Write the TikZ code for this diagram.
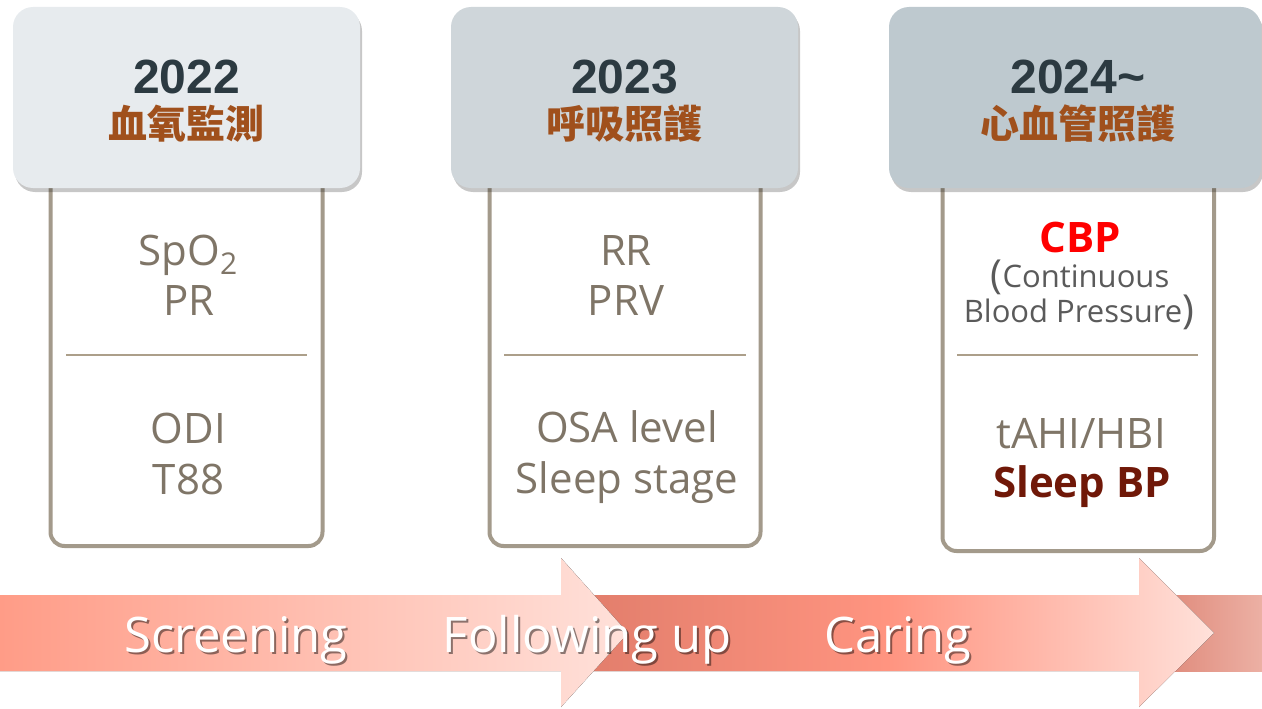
\documentclass[tikz,border=0pt]{standalone}
\usepackage{fontspec}
\usepackage{tikz}
\usetikzlibrary{
    positioning,   % For placing nodes relative to each other
    shadows        % For the soft shadow under the year boxes
}
\newfontfamily\bodyfont{Open Sans}
\newfontfamily\yearfont{Liberation Sans}
\newfontfamily\cjkfont{Noto Sans CJK TC}
\definecolor{hdrone}{HTML}{E7EBEE}
\definecolor{hdrtwo}{HTML}{CFD6DA}
\definecolor{hdrthree}{HTML}{BEC9CF}
\definecolor{boxline}{HTML}{A39A8B}
\definecolor{rulecol}{HTML}{AC9F8A}
\definecolor{bodytext}{HTML}{7F7567}
\definecolor{yeartext}{HTML}{2C3A41}
\definecolor{cjktext}{HTML}{A0501C}
\definecolor{cbpred}{HTML}{FF0000}
\definecolor{cbpgray}{HTML}{5A5A5A}
\definecolor{bpdark}{HTML}{701808}
\definecolor{bandleft}{HTML}{FF9C87}
\definecolor{bandlight}{HTML}{FFE1DA}
\definecolor{banddark}{HTML}{E07C6A}
\definecolor{bandmid}{HTML}{FF9480}
\definecolor{tailleft}{HTML}{DC8070}
\definecolor{tailright}{HTML}{ECB0A4}

\begin{document}
\begin{tikzpicture}[
    x=1pt, y=-1pt,
    % Style for the year boxes on top
    hdr_style/.style={
        rounded corners=20pt,
        minimum width=347pt,
        minimum height=181pt,
        inner sep=0pt,
        drop shadow={shadow xshift=2pt, shadow yshift=-4pt, opacity=.22, fill=black}
    },
    % Style for the framed boxes below
    body_style/.style={
        draw=boxline,
        line width=4pt,
        rounded corners=14pt
    },
    % Style for the thin rule in each box
    rule_style/.style={
        draw=rulecol,
        line width=2pt
    },
    % Text styles
    year_style/.style={
        anchor=base, inner sep=0pt, text=yeartext,
        font=\yearfont\bfseries\fontsize{48}{48}\selectfont
    },
    cjk_style/.style={
        anchor=base, inner sep=0pt, text=cjktext,
        font=\cjkfont\bfseries\fontsize{39}{39}\selectfont
    },
    item_style/.style={
        anchor=base, inner sep=0pt, text=bodytext,
        font=\bodyfont\fontsize{42}{50}\selectfont
    },
    band_text/.style={
        anchor=base, inner sep=0pt, text=white,
        font=\bodyfont\fontsize{49}{49}\selectfont
    },
    band_shadow/.style={
        band_text, text=black, opacity=.45
    }
]
    \useasboundingbox (0,0) rectangle (1262,709);

    % 1. Framed boxes (their tops hide under the year boxes)
    \draw[body_style] (50.5,150) rectangle (322.5,546);
    \draw[body_style] (489.5,150) rectangle (760.5,546);
    \draw[body_style] (942.5,150) rectangle (1214,551);

    % 2. Year boxes
    \node[hdr_style, fill=hdrone, minimum width=347pt] (hdr_2022) at (186.5,97.5) {};
    \node[hdr_style, fill=hdrtwo, minimum width=347pt] (hdr_2023) at (624.5,97.5) {};
    \node[hdr_style, fill=hdrthree, minimum width=372pt] (hdr_2024) at (1075,97.5) {};

    \node[year_style] (year_2022) at (186.5,93) {2022};
    \node[cjk_style] (topic_2022) at (186.5,139) {血氧監測};
    \node[year_style] (year_2023) at (624.5,93) {2023};
    \node[cjk_style] (topic_2023) at (624.5,139) {呼吸照護};
    \node[year_style] (year_2024) at (1078,93) {2024\textasciitilde};
    \node[cjk_style] (topic_2024) at (1078,139) {心血管照護};

    % 3. Items in the boxes
    \node[item_style] (spo2) at (188,265) {SpO\raisebox{-9pt}{\fontsize{30}{30}\selectfont 2}};
    \node[item_style] (pr) at (189,315) {PR};
    \draw[rule_style] (66,355) -- (307,355);
    \node[item_style] (odi) at (188.5,443) {ODI};
    \node[item_style] (t88) at (188.5,494) {T88};

    \node[item_style] (rr) at (626,265) {RR};
    \node[item_style] (prv) at (626,315) {PRV};
    \draw[rule_style] (504,355) -- (746,355);
    \node[item_style] (osa) at (627,442) {OSA level};
    \node[item_style] (stage) at (627,493) {Sleep stage};

    \node[item_style, text=cbpred, font=\bodyfont\bfseries\fontsize{42}{42}\selectfont] (cbp) at (1080,252) {CBP};
    \node[item_style, text=cbpgray, font=\bodyfont\fontsize{31}{31}\selectfont] (cbp_one) at (1080,287)
        {\raisebox{-0.12ex}{\fontsize{40}{40}\selectfont(}Continuous};
    \node[item_style, text=cbpgray, font=\bodyfont\fontsize{31}{31}\selectfont] (cbp_two) at (1079,322)
        {Blood Pressure\raisebox{-0.12ex}{\fontsize{40}{40}\selectfont)}};
    \draw[rule_style] (957,355) -- (1198,355);
    \node[item_style] (tahi) at (1081,448) {tAHI/HBI};
    \node[item_style, text=bpdark, font=\bodyfont\bfseries\fontsize{42}{42}\selectfont] (sleep_bp) at (1082,497) {Sleep BP};

    % 4. Stage arrows along the bottom
    \fill[left color=tailleft, right color=tailright] (1139,595) rectangle (1262,671);
    \fill[left color=banddark, right color=bandlight, middle color=bandmid]
        (561,595) -- (1139,595) -- (1139,558) -- (1214,633) -- (1139,707) -- (1139,671) -- (561,671) -- cycle;
    \fill[left color=bandleft, right color=bandlight]
        (0,595) -- (561,595) -- (561,558) -- (628,633) -- (561,707) -- (561,671) -- (0,671) -- cycle;

    \node[band_shadow] at (238,654) {Screening};
    \node[band_text] (screening) at (236,652) {Screening};
    \node[band_shadow] at (589,654) {Following up};
    \node[band_text] (following) at (587,652) {Following up};
    \node[band_shadow] at (900,654) {Caring};
    \node[band_text] (caring) at (898,652) {Caring};

\end{tikzpicture}
\end{document}
